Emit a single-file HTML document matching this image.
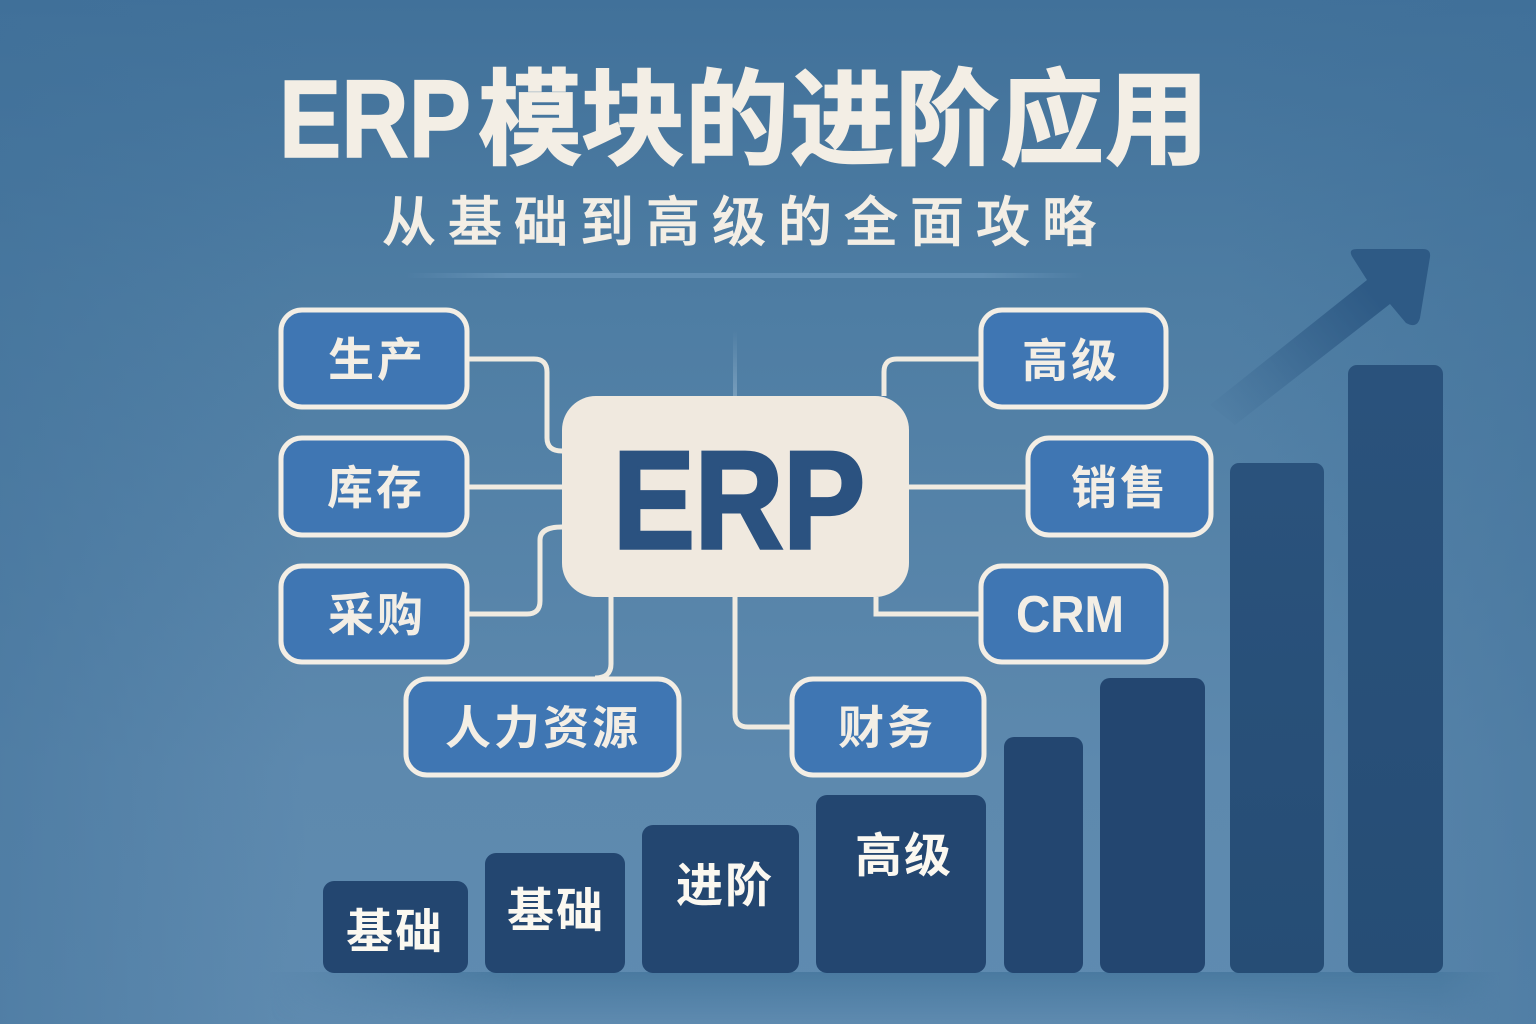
<!DOCTYPE html>
<html lang="zh"><head><meta charset="utf-8"><style>
html,body{margin:0;padding:0;width:1536px;height:1024px;overflow:hidden}
svg{display:block}
text{font-family:"Liberation Sans","Noto Sans CJK SC",sans-serif;font-weight:700;fill:#f3eee5}
.c{font-family:"Noto Sans CJK SC","WenQuanYi Zen Hei",sans-serif;text-anchor:middle}
.t{stroke:#f3eee5;stroke-width:1.6}
.b{fill:#3f76b3;stroke:#f3eee5;stroke-width:5}
.l{fill:none;stroke:#f0ebe1;stroke-width:5}
</style></head><body>
<svg width="1536" height="1024" viewBox="0 0 1536 1024" xmlns="http://www.w3.org/2000/svg">
<defs>
<linearGradient id="bg" x1="0" y1="0" x2="0" y2="1"><stop offset="0" stop-color="#41719a"/><stop offset=".3" stop-color="#4e7da3"/><stop offset=".75" stop-color="#5d89ae"/><stop offset="1" stop-color="#5f8bb0"/></linearGradient>
<linearGradient id="side" x1="0" y1="0" x2="1" y2="0"><stop offset="0" stop-color="#3f6f98" stop-opacity=".45"/><stop offset=".2" stop-color="#3f6f98" stop-opacity="0"/><stop offset=".8" stop-color="#3f6f98" stop-opacity="0"/><stop offset="1" stop-color="#3f6f98" stop-opacity=".45"/></linearGradient>
<linearGradient id="floor" x1="0" y1="0" x2="0" y2="1"><stop offset="0" stop-color="#4a7aa0"/><stop offset="1" stop-color="#4a7aa0" stop-opacity="0"/></linearGradient>
<linearGradient id="floorm" x1="0" y1="0" x2="1" y2="0"><stop offset="0" stop-color="#fff" stop-opacity="0"/><stop offset=".2" stop-color="#fff"/><stop offset=".95" stop-color="#fff"/><stop offset="1" stop-color="#fff" stop-opacity="0"/></linearGradient>
<mask id="fm"><rect x="270" y="972" width="1230" height="52" fill="url(#floorm)"/></mask>
<linearGradient id="bar" x1="0" y1="0" x2="0" y2="1"><stop offset="0" stop-color="#2a527c"/><stop offset="1" stop-color="#264d75"/></linearGradient>
<linearGradient id="rule" x1="0" y1="0" x2="1" y2="0"><stop offset="0" stop-color="#6b97bb" stop-opacity="0"/><stop offset=".15" stop-color="#6b97bb" stop-opacity=".7"/><stop offset=".85" stop-color="#6b97bb" stop-opacity=".7"/><stop offset="1" stop-color="#6b97bb" stop-opacity="0"/></linearGradient>
<linearGradient id="arrow" gradientUnits="userSpaceOnUse" x1="1215" y1="420" x2="1400" y2="270"><stop offset="0" stop-color="#2e5a85" stop-opacity="0"/><stop offset=".3" stop-color="#2e5a85" stop-opacity=".3"/><stop offset=".85" stop-color="#2e5a85"/></linearGradient>
<linearGradient id="vl" x1="0" y1="0" x2="0" y2="1"><stop offset="0" stop-color="#8fb0ca" stop-opacity="0"/><stop offset="1" stop-color="#8fb0ca" stop-opacity=".6"/></linearGradient>
</defs>
<rect width="1536" height="1024" fill="url(#bg)"/>
<rect width="1536" height="1024" fill="url(#side)"/>
<rect x="270" y="972" width="1230" height="52" fill="url(#floor)" mask="url(#fm)"/>

<text class="t" x="279" y="157" font-size="110" textLength="192" lengthAdjust="spacingAndGlyphs">ERP</text>
<text class="c t" x="530" y="156" font-size="104">模</text>
<text class="c t" x="633" y="156" font-size="104">块</text>
<text class="c t" x="737" y="156" font-size="104">的</text>
<text class="c t" x="842" y="156" font-size="104">进</text>
<text class="c t" x="947" y="156" font-size="104">阶</text>
<text class="c t" x="1052" y="156" font-size="104">应</text>
<text class="c t" x="1157" y="156" font-size="104">用</text>

<text class="c" x="745" y="241" font-size="54" letter-spacing="12" style="font-weight:500;stroke:#f3eee5;stroke-width:.8">从基础到高级的全面攻略</text>
<rect x="405" y="273" width="680" height="5" fill="url(#rule)"/>

<path d="M1210 405L1367 280L1353 258Q1347 249 1357 249H1423Q1431 249 1430 257L1420 318Q1417 329 1406 323L1390 304L1235 425Z" fill="url(#arrow)"/>

<rect x="733" y="330" width="4" height="66" fill="url(#vl)"/>

<path class="l" d="M469 359H534Q547 359 547 372V438Q547 451 562 451"/>
<path class="l" d="M469 487H562"/>
<path class="l" d="M469 614H527Q540 614 540 601V540Q540 527 562 527"/>
<path class="l" d="M611 597V664Q611 678 595 678"/>
<path class="l" d="M735 597V714Q735 727 748 727H790"/>
<path class="l" d="M884 396V372Q884 359 897 359H979"/>
<path class="l" d="M909 487H1026"/>
<path class="l" d="M876 597V614H979"/>

<rect x="562" y="396" width="347" height="201" rx="34" fill="#f0e9df"/>
<text x="613" y="548" font-size="139" textLength="252" lengthAdjust="spacingAndGlyphs" style="fill:#2b5280;stroke:#2b5280;stroke-width:3.5">ERP</text>

<rect class="b" x="281" y="310" width="186" height="97" rx="21"/>
<rect class="b" x="281" y="438" width="186" height="97" rx="21"/>
<rect class="b" x="281" y="566" width="186" height="96" rx="21"/>
<rect class="b" x="406" y="679" width="273" height="96" rx="21"/>
<rect class="b" x="981" y="310" width="185" height="97" rx="21"/>
<rect class="b" x="1028" y="438" width="183" height="97" rx="21"/>
<rect class="b" x="981" y="566" width="185" height="96" rx="21"/>
<rect class="b" x="792" y="679" width="192" height="96" rx="21"/>

<text class="c" x="377" y="376" font-size="46" letter-spacing="3">生产</text>
<text class="c" x="376" y="504" font-size="46" letter-spacing="3">库存</text>
<text class="c" x="377" y="631" font-size="46" letter-spacing="3">采购</text>
<text class="c" x="543" y="744" font-size="46" letter-spacing="3">人力资源</text>
<text class="c" x="1071" y="377" font-size="46" letter-spacing="3">高级</text>
<text class="c" x="1120" y="504" font-size="46" letter-spacing="3">销售</text>
<text x="1016" y="632" font-size="52" textLength="108" lengthAdjust="spacingAndGlyphs">CRM</text>
<text class="c" x="887" y="744" font-size="46" letter-spacing="3">财务</text>

<g fill="#234670">
<rect x="323" y="881" width="145" height="92" rx="11"/>
<rect x="485" y="853" width="140" height="120" rx="11"/>
<rect x="642" y="825" width="157" height="148" rx="11"/>
<rect x="816" y="795" width="170" height="178" rx="11"/>
<rect x="1004" y="737" width="79" height="236" rx="10"/>
<rect x="1100" y="678" width="105" height="295" rx="10"/>
</g>
<rect x="1230" y="463" width="94" height="510" rx="9" fill="url(#bar)"/>
<rect x="1348" y="365" width="95" height="608" rx="9" fill="url(#bar)"/>

<text class="c" x="395" y="948" font-size="47" letter-spacing="2" style="fill:#fbf8f0">基础</text>
<text class="c" x="556" y="927" font-size="47" letter-spacing="2" style="fill:#fbf8f0">基础</text>
<text class="c" x="725" y="902" font-size="47" letter-spacing="2" style="fill:#fbf8f0">进阶</text>
<text class="c" x="904" y="872" font-size="47" letter-spacing="2" style="fill:#fbf8f0">高级</text>
</svg>
</body></html>
